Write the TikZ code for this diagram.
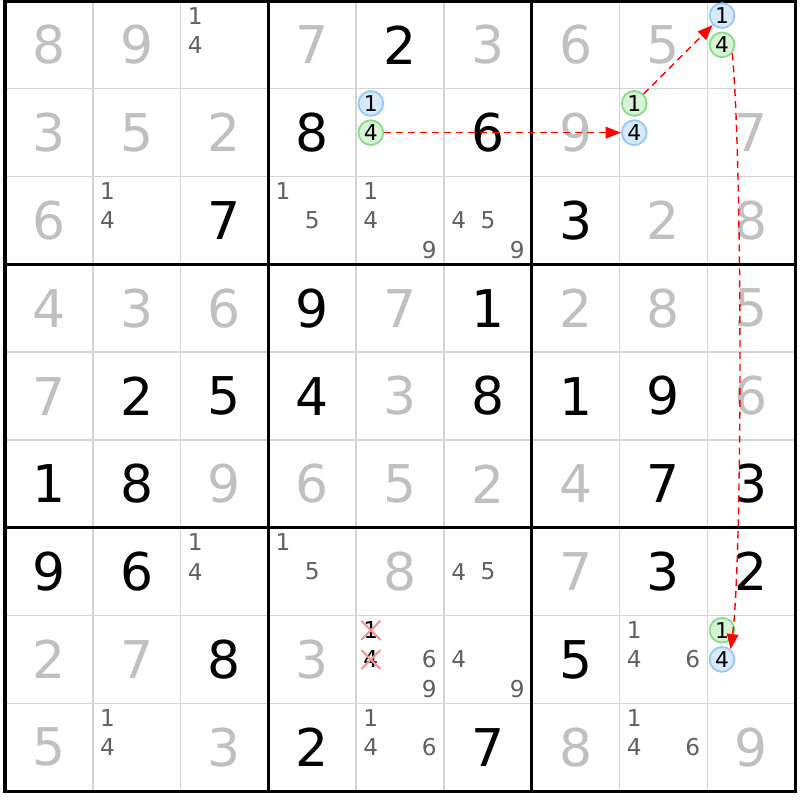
\documentclass[tikz,border=0pt]{standalone}
\usepackage{fontspec}
\setmainfont{DejaVu Sans}
\usetikzlibrary{arrows.meta, shapes.misc}
\definecolor{solvedgray}{RGB}{192,192,192}
\definecolor{candgray}{RGB}{96,96,96}
\definecolor{linegray}{RGB}{212,212,212}
\definecolor{bluefill}{RGB}{214,234,252}
\definecolor{bluedraw}{RGB}{150,200,250}
\definecolor{greenfill}{RGB}{214,244,214}
\definecolor{greendraw}{RGB}{140,218,140}
\definecolor{xred}{RGB}{244,150,150}
\tikzstyle{given} = [text=black, 
font=\fontsize{37}{37}\selectfont]
\tikzstyle{solved} = [text=solvedgray, 
font=\fontsize{37}{37}\selectfont]
\tikzstyle{cand} = [text=candgray, 
inner sep=0pt, 
font=\fontsize{16.5}{16.5}\selectfont]
\tikzstyle{bluemark} = [circle, 
draw=bluedraw, 
fill=bluefill, 
line width=1.3pt, 
minimum size=0.62cm, 
inner sep=0pt, 
text=black, 
font=\fontsize{15.5}{15.5}\selectfont]
\tikzstyle{greenmark} = [bluemark, 
draw=greendraw, 
fill=greenfill]
\tikzstyle{struck} = [cand, 
cross out, 
draw=xred, 
line width=1.5pt, 
minimum size=0.42cm, 
text=black]
\tikzstyle{thinline} = [draw=linegray, line width=1pt]
\tikzstyle{thickline} = [draw=black, line width=2.2pt]
\tikzstyle{arrow} = [red, line width=1pt, 
dash pattern=on 5pt off 3.5pt, 
-{Triangle[length=0.38cm, width=0.29cm]}]

\begin{document}
\begin{tikzpicture}[x=2.195cm, y=-2.195cm]

\useasboundingbox (-0.057,-0.011) rectangle (9.055,9.101);

% grid
\draw [thinline, step=2.195cm] (0,0) grid (9,9);
\draw [thickline] (3,0) -- (3,9) (6,0) -- (6,9) (0,3) -- (9,3) (0,6) -- (9,6);
\draw [thickline] (0,0) rectangle (9,9);

% row 1
\node (r1c1) [solved] at (0.5,0.5) {8};
\node (r1c2) [solved] at (1.5,0.5) {9};
\node (r1c3d1) [cand] at (2.167,0.167) {1};
\node (r1c3d4) [cand] at (2.167,0.5) {4};
\node (r1c4) [solved] at (3.5,0.5) {7};
\node (r1c5) [given] at (4.5,0.5) {2};
\node (r1c6) [solved] at (5.5,0.5) {3};
\node (r1c7) [solved] at (6.5,0.5) {6};
\node (r1c8) [solved] at (7.5,0.5) {5};
\node (r1c9d1) [bluemark] at (8.167,0.167) {1};
\node (r1c9d4) [greenmark] at (8.167,0.5) {4};

% row 2
\node (r2c1) [solved] at (0.5,1.5) {3};
\node (r2c2) [solved] at (1.5,1.5) {5};
\node (r2c3) [solved] at (2.5,1.5) {2};
\node (r2c4) [given] at (3.5,1.5) {8};
\node (r2c5d1) [bluemark] at (4.167,1.167) {1};
\node (r2c5d4) [greenmark] at (4.167,1.5) {4};
\node (r2c6) [given] at (5.5,1.5) {6};
\node (r2c7) [solved] at (6.5,1.5) {9};
\node (r2c8d1) [greenmark] at (7.167,1.167) {1};
\node (r2c8d4) [bluemark] at (7.167,1.5) {4};
\node (r2c9) [solved] at (8.5,1.5) {7};

% row 3
\node (r3c1) [solved] at (0.5,2.5) {6};
\node (r3c2d1) [cand] at (1.167,2.167) {1};
\node (r3c2d4) [cand] at (1.167,2.5) {4};
\node (r3c3) [given] at (2.5,2.5) {7};
\node (r3c4d1) [cand] at (3.167,2.167) {1};
\node (r3c4d5) [cand] at (3.5,2.5) {5};
\node (r3c5d1) [cand] at (4.167,2.167) {1};
\node (r3c5d4) [cand] at (4.167,2.5) {4};
\node (r3c5d9) [cand] at (4.833,2.833) {9};
\node (r3c6d4) [cand] at (5.167,2.5) {4};
\node (r3c6d5) [cand] at (5.5,2.5) {5};
\node (r3c6d9) [cand] at (5.833,2.833) {9};
\node (r3c7) [given] at (6.5,2.5) {3};
\node (r3c8) [solved] at (7.5,2.5) {2};
\node (r3c9) [solved] at (8.5,2.5) {8};

% row 4
\node (r4c1) [solved] at (0.5,3.5) {4};
\node (r4c2) [solved] at (1.5,3.5) {3};
\node (r4c3) [solved] at (2.5,3.5) {6};
\node (r4c4) [given] at (3.5,3.5) {9};
\node (r4c5) [solved] at (4.5,3.5) {7};
\node (r4c6) [given] at (5.5,3.5) {1};
\node (r4c7) [solved] at (6.5,3.5) {2};
\node (r4c8) [solved] at (7.5,3.5) {8};
\node (r4c9) [solved] at (8.5,3.5) {5};

% row 5
\node (r5c1) [solved] at (0.5,4.5) {7};
\node (r5c2) [given] at (1.5,4.5) {2};
\node (r5c3) [given] at (2.5,4.5) {5};
\node (r5c4) [given] at (3.5,4.5) {4};
\node (r5c5) [solved] at (4.5,4.5) {3};
\node (r5c6) [given] at (5.5,4.5) {8};
\node (r5c7) [given] at (6.5,4.5) {1};
\node (r5c8) [given] at (7.5,4.5) {9};
\node (r5c9) [solved] at (8.5,4.5) {6};

% row 6
\node (r6c1) [given] at (0.5,5.5) {1};
\node (r6c2) [given] at (1.5,5.5) {8};
\node (r6c3) [solved] at (2.5,5.5) {9};
\node (r6c4) [solved] at (3.5,5.5) {6};
\node (r6c5) [solved] at (4.5,5.5) {5};
\node (r6c6) [solved] at (5.5,5.5) {2};
\node (r6c7) [solved] at (6.5,5.5) {4};
\node (r6c8) [given] at (7.5,5.5) {7};
\node (r6c9) [given] at (8.5,5.5) {3};

% row 7
\node (r7c1) [given] at (0.5,6.5) {9};
\node (r7c2) [given] at (1.5,6.5) {6};
\node (r7c3d1) [cand] at (2.167,6.167) {1};
\node (r7c3d4) [cand] at (2.167,6.5) {4};
\node (r7c4d1) [cand] at (3.167,6.167) {1};
\node (r7c4d5) [cand] at (3.5,6.5) {5};
\node (r7c5) [solved] at (4.5,6.5) {8};
\node (r7c6d4) [cand] at (5.167,6.5) {4};
\node (r7c6d5) [cand] at (5.5,6.5) {5};
\node (r7c7) [solved] at (6.5,6.5) {7};
\node (r7c8) [given] at (7.5,6.5) {3};
\node (r7c9) [given] at (8.5,6.5) {2};

% row 8
\node (r8c1) [solved] at (0.5,7.5) {2};
\node (r8c2) [solved] at (1.5,7.5) {7};
\node (r8c3) [given] at (2.5,7.5) {8};
\node (r8c4) [solved] at (3.5,7.5) {3};
\node (r8c5d1) [struck] at (4.167,7.167) {1};
\node (r8c5d4) [struck] at (4.167,7.5) {4};
\node (r8c5d6) [cand] at (4.833,7.5) {6};
\node (r8c5d9) [cand] at (4.833,7.833) {9};
\node (r8c6d4) [cand] at (5.167,7.5) {4};
\node (r8c6d9) [cand] at (5.833,7.833) {9};
\node (r8c7) [given] at (6.5,7.5) {5};
\node (r8c8d1) [cand] at (7.167,7.167) {1};
\node (r8c8d4) [cand] at (7.167,7.5) {4};
\node (r8c8d6) [cand] at (7.833,7.5) {6};
\node (r8c9d1) [greenmark] at (8.167,7.167) {1};
\node (r8c9d4) [bluemark] at (8.167,7.5) {4};

% row 9
\node (r9c1) [solved] at (0.5,8.5) {5};
\node (r9c2d1) [cand] at (1.167,8.167) {1};
\node (r9c2d4) [cand] at (1.167,8.5) {4};
\node (r9c3) [solved] at (2.5,8.5) {3};
\node (r9c4) [given] at (3.5,8.5) {2};
\node (r9c5d1) [cand] at (4.167,8.167) {1};
\node (r9c5d4) [cand] at (4.167,8.5) {4};
\node (r9c5d6) [cand] at (4.833,8.5) {6};
\node (r9c6) [given] at (5.5,8.5) {7};
\node (r9c7) [solved] at (6.5,8.5) {8};
\node (r9c8d1) [cand] at (7.167,8.167) {1};
\node (r9c8d4) [cand] at (7.167,8.5) {4};
\node (r9c8d6) [cand] at (7.833,8.5) {6};
\node (r9c9) [solved] at (8.5,8.5) {9};

% chain
\draw [arrow] (r2c5d4) -- (r2c8d4);
\draw [arrow] (r2c8d1) -- (r1c9d1);
\draw [arrow] (r1c9d4.-40) .. controls (8.4,1.811) and (8.4,6.367) .. (r8c9d4.50);

\end{tikzpicture}
\end{document}
